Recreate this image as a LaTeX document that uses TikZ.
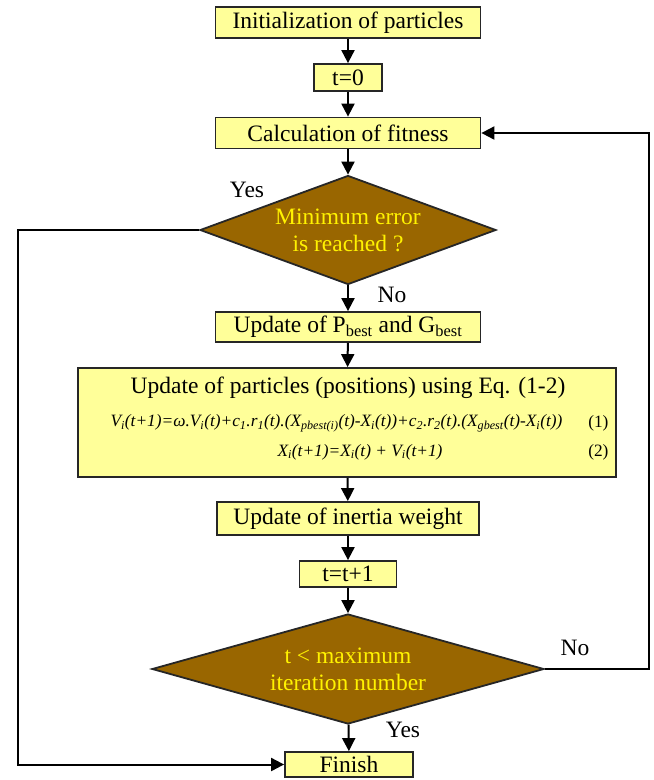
\documentclass[tikz,border=0pt]{standalone}
\usepackage{fontspec}
\setmainfont{Liberation Serif}
\usepackage{xcolor}
\usetikzlibrary{shapes.geometric,arrows.meta}
\definecolor{boxyellow}{HTML}{FFFF99}
\definecolor{decbrown}{HTML}{996600}

\begin{document}
\begin{tikzpicture}[x=1pt,y=-1pt,
    box/.style={draw=black!85,line width=1.8pt,fill=boxyellow,inner sep=0pt,font=\fontsize{23.5}{27}\selectfont},
    decision/.style={diamond,draw=black!85,line width=1.8pt,fill=decbrown,text=yellow,inner sep=0pt,align=center,font=\fontsize{23.5}{27}\selectfont},
    lbl/.style={font=\fontsize{23.5}{27}\selectfont},
    eqn/.style={font=\fontsize{17.3}{20}\selectfont\itshape},
    eqnum/.style={font=\fontsize{17.3}{20}\selectfont,anchor=east},
    arr/.style={-{Triangle[length=13pt,width=13pt]},line width=2pt}]
  \useasboundingbox (0,0) rectangle (654,780);
  % boxes
  \node[box,minimum width=265,minimum height=31] (init) at (348,22.5) {Initialization of particles};
  \node[box,minimum width=68,minimum height=27] (tzero) at (348,77.5) {t=0};
  \node[box,minimum width=265,minimum height=31] (calc) at (348,133) {Calculation of fitness};
  \node[decision,aspect=2.7,minimum width=296,minimum height=109] (minerr) at (348,230) {Minimum error\\is reached ?};
  \node[box,minimum width=265,minimum height=30] (pbest) at (348,327) {Update of P\textsubscript{best} and G\textsubscript{best}};
  \node[box,minimum width=538,minimum height=109] (update) at (347,422.5) {};
  \node[box,minimum width=262,minimum height=33] (inertia) at (348,518.5) {Update of inertia weight};
  \node[box,minimum width=97,minimum height=26] (tinc) at (348,574) {t=t+1};
  \node[decision,aspect=3.56,minimum width=392,minimum height=110] (maxit) at (348,669) {t < maximum\\iteration number};
  \node[box,minimum width=128,minimum height=25] (finish) at (349,764.5) {Finish};
  % contents of the big box
  \node[lbl] (updtitle) at (348,388) {Update of particles (positions) using Eq. (1-2)};
  \node[eqn,anchor=west] (eqone) at (107,423) {V\textsubscript{i}(t+1)=ω.V\textsubscript{i}(t)+c\textsubscript{1}.r\textsubscript{1}(t).(X\textsubscript{pbest(i)}(t)-X\textsubscript{i}(t))+c\textsubscript{2}.r\textsubscript{2}(t).(X\textsubscript{gbest}(t)-X\textsubscript{i}(t))};
  \node[eqn] (eqtwo) at (360,452) {X\textsubscript{i}(t+1)=X\textsubscript{i}(t) + V\textsubscript{i}(t+1)};
  \node[eqnum] (numone) at (612,423) {(1)};
  \node[eqnum] (numtwo) at (612,452) {(2)};
  % branch labels
  \node[lbl] (yesone) at (247,190) {Yes};
  \node[lbl] (noone) at (392,295) {No};
  \node[lbl] (notwo) at (575,648) {No};
  \node[lbl] (yestwo) at (403,730) {Yes};
  % corners of the loops
  \coordinate (lft) at (18,230);
  \coordinate (rgt) at (649,669);
  % connectors
  \draw[arr] (init) -- (tzero);
  \draw[arr] (tzero) -- (calc);
  \draw[arr] (calc) -- (minerr);
  \draw[arr] (minerr) -- (pbest);
  \draw[arr] (pbest) -- (update);
  \draw[arr] (update) -- (inertia);
  \draw[arr] (inertia) -- (tinc);
  \draw[arr] (tinc) -- (maxit);
  \draw[arr] (maxit) -- (finish);
  \draw[arr] (minerr.west) -- (lft) |- (finish.west);
  \draw[arr] (maxit.east) -- (rgt) |- (calc.east);
\end{tikzpicture}
\end{document}
